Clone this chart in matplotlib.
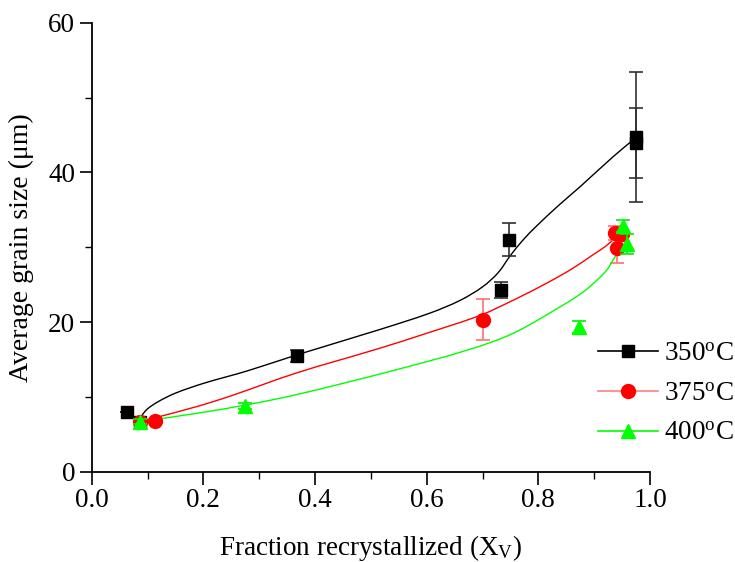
import numpy as np
import matplotlib
matplotlib.use("Agg")
import matplotlib.pyplot as plt
from matplotlib.ticker import MultipleLocator, FormatStrFormatter
from matplotlib.path import Path
from matplotlib.patches import PathPatch

plt.rcParams['font.family'] = ['Liberation Serif', 'DejaVu Serif']
plt.rcParams['mathtext.fontset'] = 'custom'
plt.rcParams['mathtext.rm'] = 'Liberation Serif'
plt.rcParams['mathtext.it'] = 'Liberation Serif:italic'

# Measured grain sizes (mean, error) vs. recrystallized fraction
x_350 = [0.063, 0.087, 0.368, 0.733, 0.748, 0.974, 0.975]
y_350 = [8.0, 6.7, 15.5, 24.3, 31.0, 44.7, 43.9]
e_350 = [0.0, 0.0, 0.8, 1.1, 2.2, 8.7, 4.7]

x_375 = [0.087, 0.113, 0.700, 0.937, 0.940, 0.950]
y_375 = [6.7, 6.8, 20.3, 31.9, 29.9, 31.7]
e_375 = [0.0, 0.0, 2.75, 0.9, 2.0, 0.5]

x_400 = [0.087, 0.275, 0.872, 0.952, 0.958]
y_400 = [6.7, 8.8, 19.3, 32.8, 30.4]
e_400 = [0.3, 0.4, 0.8, 0.8, 1.3]

# Fitted trend curves (knots of the smooth fit lines)
fx_350 = [0.087, 0.090, 0.100, 0.120, 0.150, 0.200, 0.280, 0.367, 0.516, 0.606,
          0.660, 0.700, 0.728, 0.750, 0.773, 0.795, 0.835, 0.875, 0.934, 0.974]
fy_350 = [6.7, 7.5, 8.4, 9.4, 10.5, 11.8, 13.5, 15.6, 19.0, 21.2,
          22.9, 24.7, 26.6, 28.9, 31.0, 32.7, 35.5, 38.1, 42.1, 44.6]

fx_375 = [0.087, 0.113, 0.188, 0.248, 0.367, 0.516, 0.600, 0.696, 0.760, 0.815,
          0.860, 0.898, 0.920, 0.937]
fy_375 = [6.7, 7.2, 8.7, 10.1, 13.2, 16.5, 18.5, 20.9, 23.1, 25.2,
          27.1, 29.0, 30.1, 31.2]

fx_400 = [0.087, 0.188, 0.275, 0.367, 0.534, 0.675, 0.755, 0.845, 0.880, 0.905,
          0.922, 0.934, 0.945, 0.952, 0.956]
fy_400 = [6.7, 7.8, 8.9, 10.3, 13.4, 16.3, 18.5, 22.3, 24.0, 25.6,
          26.9, 28.3, 29.8, 31.6, 32.5]

labels = ['350$^{\\rm o}$C', '375$^{\\rm o}$C', '400$^{\\rm o}$C']


def smooth_path(xs, ys, sx=558.0, sy=7.48):
    """Cubic Bezier path passing through the knots (chord-length Hermite)."""
    p = np.column_stack([xs, ys]).astype(float)
    q = p * [sx, sy]
    d = np.hypot(*np.diff(q, axis=0).T)
    t = np.concatenate([[0], np.cumsum(d)])
    n = len(p)
    m = np.zeros_like(p)
    for i in range(n):
        a, b = max(i - 1, 0), min(i + 1, n - 1)
        m[i] = (p[b] - p[a]) / (t[b] - t[a])
    verts = [p[0]]
    codes = [Path.MOVETO]
    for i in range(n - 1):
        h = t[i + 1] - t[i]
        verts += [p[i] + m[i] * h / 3, p[i + 1] - m[i + 1] * h / 3, p[i + 1]]
        codes += [Path.CURVE4] * 3
    return Path(verts, codes)


fig = plt.figure(figsize=(7.35, 5.62), dpi=100)
ax = fig.add_axes([0.1248, 0.1607, 0.7596, 0.7989])

series = [
    (x_350, y_350, e_350, fx_350, fy_350, 's', 9, 'black', '#303030', '#000000'),
    (x_375, y_375, e_375, fx_375, fy_375, 'o', 10, '#ff0000', '#ff7070', '#ff7f7f'),
    (x_400, y_400, e_400, fx_400, fy_400, '^', 10.5, '#00ff00', '#00ee00', '#00ff00'),
]

for i, (xs, ys, es, fx, fy, mk, ms, col, ecol, lcol) in enumerate(series):
    ax.add_patch(PathPatch(smooth_path(fx, fy), fill=False, edgecolor=col,
                           lw=1.0, zorder=2 + i))
    ax.errorbar(xs, ys, yerr=es, fmt='none', ecolor=ecol, elinewidth=1.2,
                capsize=5, capthick=1.2, zorder=3 + i)
    ax.plot(xs, ys, linestyle='none', marker=mk, ms=ms, color=col,
            markeredgecolor=col, zorder=4 + i)
    # legend handle: line through marker
    ax.plot([], [], '-', marker=mk, ms=ms, color=lcol, markerfacecolor=col,
            markeredgecolor=col, lw=1.2, label=labels[i])

ax.set_xlim(0, 1.0)
ax.set_ylim(0, 60)
ax.xaxis.set_major_locator(MultipleLocator(0.2))
ax.xaxis.set_minor_locator(MultipleLocator(0.1))
ax.yaxis.set_major_locator(MultipleLocator(20))
ax.yaxis.set_minor_locator(MultipleLocator(10))
ax.xaxis.set_major_formatter(FormatStrFormatter('%.1f'))

for s in ['top', 'right']:
    ax.spines[s].set_visible(False)
for s in ['left', 'bottom']:
    ax.spines[s].set_linewidth(1.3)

ax.tick_params(which='major', direction='out', length=9, width=1.2,
               labelsize=19.5, pad=3)
ax.tick_params(which='minor', direction='out', length=5, width=1.0)

ax.set_xlabel('Fraction recrystallized (X$_{\\rm V}$)', fontsize=19.5, labelpad=14)
ax.set_ylabel('Average grain size (\u03bcm)', fontsize=20, labelpad=10)

leg = ax.legend(loc='center left', bbox_to_anchor=(0.907, 0.173), frameon=False,
                fontsize=19.5, handlelength=2.2, handletextpad=0.25,
                labelspacing=0.55, borderaxespad=0, borderpad=0)

fig.savefig('out.png', dpi=100)
